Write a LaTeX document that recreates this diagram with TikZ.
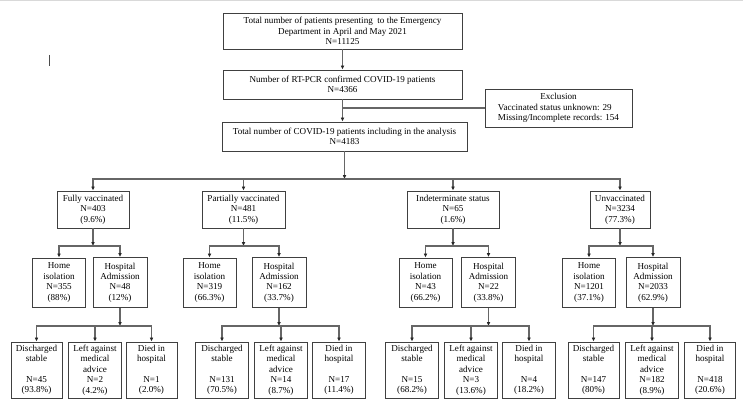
\documentclass[tikz,border=0pt]{standalone}
\usepackage{fontspec}
\setmainfont{Liberation Serif}
\usetikzlibrary{arrows.meta}
\begin{document}
\begin{tikzpicture}[x=1pt,y=-1pt,
  box/.style={draw=black!75,line width=0.9pt,align=center,inner sep=0pt,
    font=\fontsize{9.1}{10.4}\selectfont},
  conn/.style={draw=black!60,line width=1.3pt},
  hline/.style={conn,line cap=rect},
  arr/.style={conn,-{Latex[length=4pt,width=3.8pt,color=black!85]}}]
\useasboundingbox (0,0) rectangle (743,401);
\draw[black!15,line width=1pt] (0,0.5) -- (743,0.5);
\draw[black!70,line width=0.8pt] (49,55) -- (49,66);

% top chain
\node[box,minimum width=239pt,minimum height=36pt] (top) at (342.5,31)
  {Total number of patients presenting\ \ to the Emergency\\Department in April and May 2021\\N=11125};
\node[box,minimum width=239pt,minimum height=29pt] (rt) at (342.5,84.5)
  {Number of RT-PCR confirmed COVID-19 patients\\N=4366};
\node[box,minimum width=147pt,minimum height=38pt] (excl) at (558.5,108)
  {\begin{tabular}{@{}l@{}}\multicolumn{1}{@{}c@{}}{Exclusion}\\Vaccinated status unknown: 29\\Missing/Incomplete records: 154\end{tabular}};
\node[box,minimum width=245pt,minimum height=29pt] (tot) at (344.5,136.5)
  {Total number of COVID-19 patients including in the analysis\\N=4183};

\draw[arr] (top) -- (rt);
\draw[arr] (rt.south) -- (rt.south |- tot.north);
\draw[conn] (rt.south |- excl.west) -- (excl.west);

% status boxes
\node[box,minimum width=72pt,minimum height=37pt] (s1) at (93,209.5) {Fully vaccinated\\N=403\\(9.6\%)};
\node[box,minimum width=83pt,minimum height=37pt] (s2) at (243.5,209.5) {Partially vaccinated\\N=481\\(11.5\%)};
\node[box,minimum width=92pt,minimum height=37pt] (s3) at (453,209.5) {Indeterminate status\\N=65\\(1.6\%)};
\node[box,minimum width=60pt,minimum height=37pt] (s4) at (620,209.5) {Unvaccinated\\N=3234\\(77.3\%)};

\path (tot.south |- 0,179) coordinate (br);
\draw[arr] (tot.south -| br) -- (br);
\draw[hline] (br -| s1.north) -- (br -| s4.north);
\foreach \nn in {s1,s2,s3,s4} \draw[arr] (br -| \nn.north) -- (\nn.north);

% home / hospital
\foreach \cc/\hX/\aX/\hN/\hP/\aN/\aP in {1/59/120/355/88/48/12,
    2/209.5/279/319/66.3/162/33.7,
    3/425.5/488.5/43/66.2/22/33.8,
    4/589/653/1201/37.1/2033/62.9}{
  \node[box,minimum width=53pt,minimum height=49pt] (home\cc) at (\hX,282.5)
    {Home\\isolation\\N=\hN\\(\hP\%)};
  \node[box,minimum width=54pt,minimum height=50pt] (hosp\cc) at (\aX,282.5)
    {Hospital\\Admission\\N=\aN\\(\aP\%)};
  \path (s\cc.south |- 0,246) coordinate (b\cc);
  \draw[arr] (s\cc.south) -- (b\cc);
  \draw[hline] (b\cc -| home\cc.north) -- (b\cc -| hosp\cc.north);
  \draw[arr] (b\cc -| home\cc.north) -- (home\cc.north);
  \draw[arr] (b\cc -| hosp\cc.north) -- (hosp\cc.north);
}

% outcomes
\foreach \cc/\dX/\lX/\eX/\bw/\dN/\dP/\lN/\lP/\eN/\eP in {
    1/36.5/95/151.5/51/45/93.8/2/4.2/1/2.0,
    2/222/281/339/53/131/70.5/14/8.7/17/11.4,
    3/412/471/529/53/15/68.2/3/13.6/4/18.2,
    4/593.5/652/710/51/147/80/182/8.9/418/20.6}{
  \node[box,minimum width=\bw pt,minimum height=56pt] (dis\cc) at (\dX,370)
    {Discharged\\stable\\\mbox{}\\N=\dN\\(\dP\%)};
  \node[box,minimum width=53pt,minimum height=56pt] (left\cc) at (\lX,370)
    {Left against\\medical\\advice\\N=\lN\\(\lP\%)};
  \node[box,minimum width=\bw pt,minimum height=56pt] (died\cc) at (\eX,370)
    {Died in\\hospital\\\mbox{}\\N=\eN\\(\eP\%)};
  \path (hosp\cc.south |- 0,326) coordinate (c\cc);
  \draw[arr] (hosp\cc.south) -- (c\cc);
  \draw[hline] (c\cc -| dis\cc.north) -- (c\cc -| died\cc.north);
  \foreach \mm in {dis,left,died} \draw[arr] (c\cc -| \mm\cc.north) -- (\mm\cc.north);
}
\end{tikzpicture}
\end{document}
